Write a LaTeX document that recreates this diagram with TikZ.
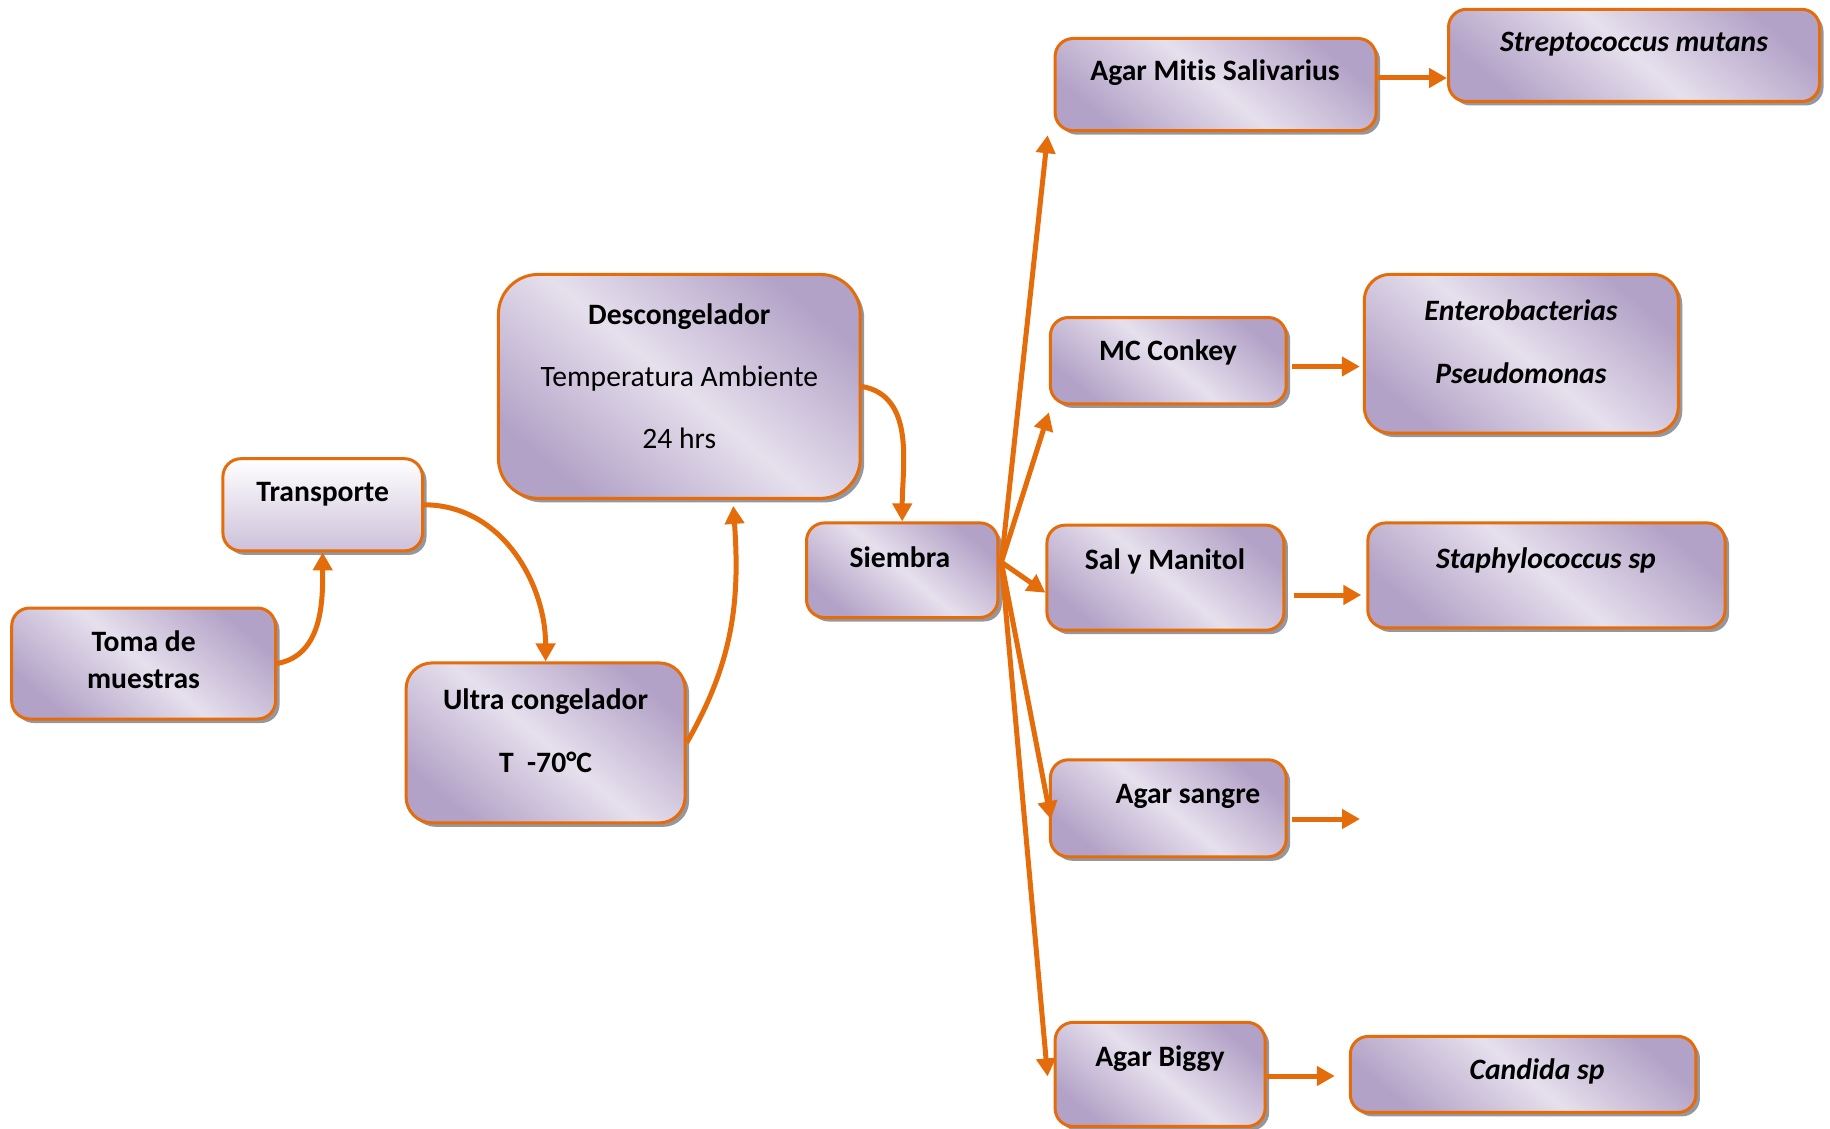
\documentclass[tikz,border=0pt]{standalone}
\usepackage{fontspec}
\setmainfont{Carlito}[Ligatures=NoCommon]
\usetikzlibrary{arrows.meta,shadows}
\definecolor{orangeA}{RGB}{228,108,10}
\definecolor{lavD}{RGB}{179,162,199}
\definecolor{lavL}{RGB}{230,224,237}
\definecolor{lavM}{RGB}{204,193,218}
\definecolor{shadowgray}{RGB}{150,150,158}
\tikzset{
  box/.style={draw=orangeA, line width=1.5pt, rounded corners=9pt, inner sep=0pt,
    top color=lavD, bottom color=lavD, middle color=lavL, shading angle=-40,
    drop shadow={shadow xshift=2pt, shadow yshift=-2pt, fill=shadowgray, opacity=1}},
  vbox/.style={box, top color=white, bottom color=lavM, shading angle=0},
  lbl/.style={font=\fontsize{14.8pt}{17pt}\selectfont\bfseries, text=black, inner sep=0pt, anchor=base},
  lblr/.style={font=\fontsize{14.8pt}{17pt}\selectfont, text=black, inner sep=0pt, anchor=base},
  lbli/.style={font=\fontsize{14.8pt}{17pt}\selectfont\bfseries\itshape, text=black, inner sep=0pt, anchor=base},
  arr/.style={draw=orangeA, line width=2.5pt, -{Triangle[length=9pt,width=9.5pt]}},
}
\begin{document}
\begin{tikzpicture}[x=0.5pt,y=-0.5pt]
\useasboundingbox (0,0) rectangle (1830,1129);
% boxes
\node[box,minimum width=131.9pt,minimum height=55.5pt] (toma) at (143.6,663.5) {};
\node[vbox,minimum width=99.8pt,minimum height=46.1pt] (trans) at (322.7,504.8) {};
\node[box,rounded corners=13pt,minimum width=139.5pt,minimum height=80pt] (ultra) at (545.6,742.9) {};
\node[box,rounded corners=20pt,minimum width=180.9pt,minimum height=112pt] (desc) at (679.3,386.4) {};
\node[box,minimum width=95.7pt,minimum height=47.3pt] (siembra) at (902.2,570.2) {};
\node[box,minimum width=160.5pt,minimum height=46.1pt] (mitis) at (1215.6,84.6) {};
\node[box,minimum width=185.5pt,minimum height=46.1pt] (strepto) at (1634,55.4) {};
\node[box,minimum width=117.9pt,minimum height=43.2pt] (mc) at (1168.3,360.7) {};
\node[box,rounded corners=13pt,minimum width=157pt,minimum height=79.4pt] (entero) at (1521.3,353.7) {};
\node[box,minimum width=118.5pt,minimum height=52.5pt] (sal) at (1165.4,577.7) {};
\node[box,minimum width=178.6pt,minimum height=52.5pt] (staph) at (1546.4,575.4) {};
\node[box,minimum width=117.9pt,minimum height=48.5pt] (sangre) at (1168.3,808.3) {};
\node[box,minimum width=105pt,minimum height=52pt] (biggy) at (1160.1,1074.4) {};
\node[box,minimum width=172.8pt,minimum height=38pt] (candida) at (1523.1,1074.4) {};
% texts
\node[lbl] (tToma1) at (143.6,651) {Toma de};
\node[lbl] (tToma2) at (143.6,688) {muestras};
\node[lbl] (tTrans) at (322.7,501) {Transporte};
\node[lbl] (tUltra1) at (545.6,709) {Ultra congelador};
\node[lbl] (tUltra2) at (545.6,772) {T\ \ -70°C};
\node[lbl] (tDesc1) at (679.3,324) {Descongelador};
\node[lblr] (tDesc2) at (679.3,386) {Temperatura Ambiente};
\node[lblr] (tDesc3) at (679.3,448) {24 hrs};
\node[lbl] (tSiembra) at (900,567) {Siembra};
\node[lbl] (tMitis) at (1215,81) {Agar Mitis Salivarius};
\node[lbli] (tStrepto) at (1634,52) {Streptococcus mutans};
\node[lbl] (tMc) at (1168,360) {MC Conkey};
\node[lbli] (tEntero1) at (1521,320) {Enterobacterias};
\node[lbli] (tEntero2) at (1521,383) {Pseudomonas};
\node[lbl] (tSal) at (1165,569) {Sal y Manitol};
\node[lbli] (tStaph) at (1546,568) {Staphylococcus sp};
\node[lbl] (tSangre) at (1188,803) {Agar sangre};
\node[lbl] (tBiggy) at (1160,1066) {Agar Biggy};
\node[lbli] (tCandida) at (1537,1079) {Candida sp};
% main flow
\draw[arr] (toma.east) to[out=10,in=-90] (trans.south);
\draw[arr] (trans.east) to[out=0,in=90] (ultra.north);
\coordinate (descIn) at ([xshift=27pt,yshift=-3pt]desc.south);
\draw[arr] (ultra.east) to[out=60,in=-86] (descIn);
\draw[arr] (desc.east) to[out=-10,in=90] (siembra.north);
% fan
\coordinate (fan) at ([xshift=1pt,yshift=4pt]siembra.east);
\coordinate (fMitis) at ([xshift=-3pt,yshift=-1.5pt]mitis.south west);
\coordinate (fMc) at ([yshift=-3.5pt]mc.south west);
\coordinate (fSal) at ([yshift=-7.5pt]sal.west);
\coordinate (fSangre) at ([xshift=1pt,yshift=-5.5pt]sangre.west);
\coordinate (fBiggy) at ([xshift=-3pt,yshift=-1pt]biggy.west);
\draw[arr] (fan) -- (fMitis);
\draw[arr] (fan) -- (fMc);
\draw[arr] (fan) -- (fSal);
\draw[arr] (fan) -- (fSangre);
\draw[arr] (fan) -- (fBiggy);
% right arrows
\coordinate (a1) at ([yshift=3.3pt]mitis.east);
\draw[arr] (a1) -- (a1 -| strepto.west);
\coordinate (a2) at ([yshift=-2.9pt]mc.east);
\draw[arr,shorten <=2pt,shorten >=1.5pt] (a2) -- (a2 -| entero.west);
\coordinate (a3) at ([yshift=-8.65pt]sal.east);
\draw[arr,shorten <=4.5pt,shorten >=2.5pt] (a3) -- (a3 -| staph.west);
\coordinate (a4) at ([yshift=-5.35pt]sangre.east);
\coordinate (sangreEnd) at (1360,819);
\draw[arr,shorten <=2pt] (a4) -- (sangreEnd);
\coordinate (a5) at ([yshift=-0.8pt]biggy.east);
\draw[arr,shorten >=7pt] (a5) -- (a5 -| candida.west);
\end{tikzpicture}
\end{document}
